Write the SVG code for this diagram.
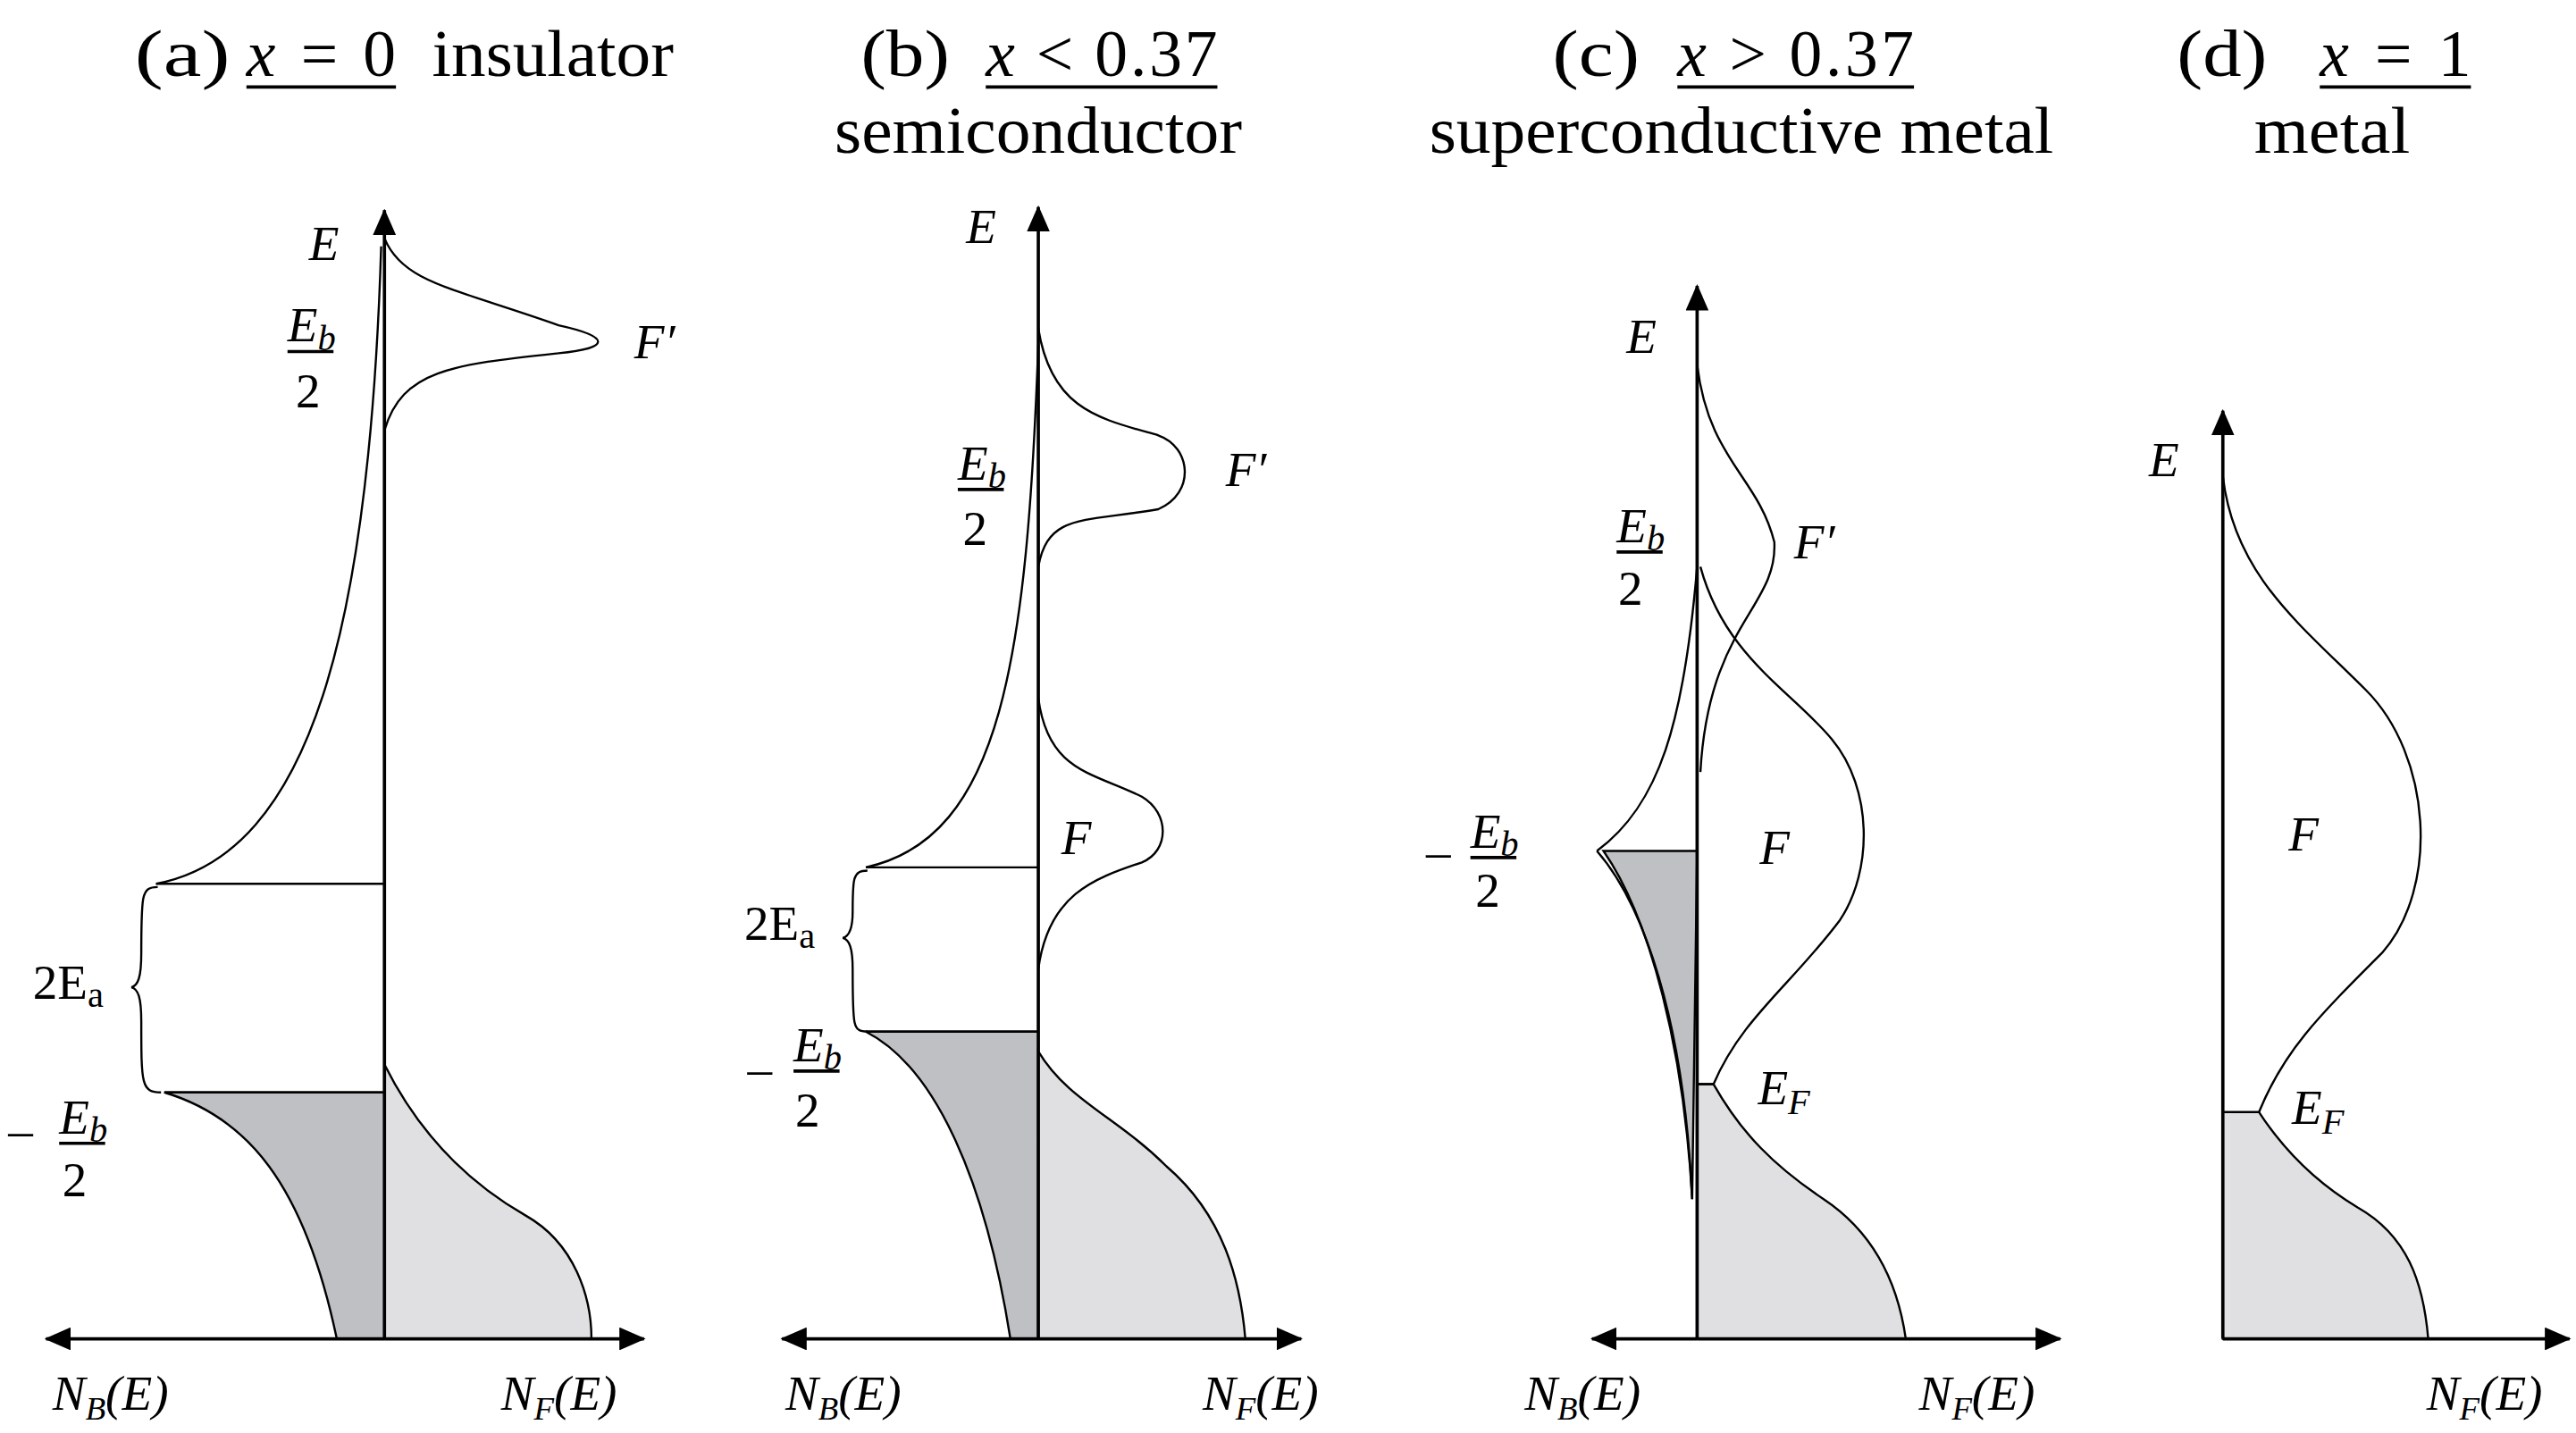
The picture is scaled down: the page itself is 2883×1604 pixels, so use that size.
<svg xmlns="http://www.w3.org/2000/svg" width="2883" height="1604" viewBox="0 0 2883 1604">
<defs>
<style>
.t{font-family:"Liberation Serif",serif;fill:#000}
.ti{font-family:"Liberation Serif",serif;font-style:italic;fill:#000}
.h{font-family:"Liberation Serif",serif;fill:#000;font-size:40px}
.ln{fill:none;stroke:#000;stroke-width:1.3}
.ax{fill:none;stroke:#000;stroke-width:2}
.dk{fill:#bfc0c3;stroke:#000;stroke-width:1.3}
.lt{fill:#e0e0e2;stroke:#000;stroke-width:1.3}
</style>
<marker id="ar" viewBox="0 0 16 14" refX="15" refY="7" markerWidth="16" markerHeight="14" markerUnits="userSpaceOnUse" orient="auto"><path d="M0,0L16,7L0,14z" fill="#000"/></marker>
</defs>
<rect width="2883" height="1604" fill="#fff"/>
<g transform="scale(1.8387)">
<g id="panel-a">
<text class="h" x="82" y="46" textLength="58" lengthAdjust="spacingAndGlyphs">(a)</text>
<text class="h" x="150" y="46" textLength="91" lengthAdjust="spacing"><tspan font-style="italic">x</tspan> = 0</text>
<text class="h" x="263" y="46" textLength="147" lengthAdjust="spacingAndGlyphs">insulator</text>
<line x1="150" y1="53" x2="241" y2="53" stroke="#000" stroke-width="2"/>
<path class="dk" d="M100,665 C150,680 185,720 205,815 L234,815 L234,665 Z"/>
<path class="lt" d="M234,648 C255,690 285,720 320,740 C350,757 360,790 360,815 L234,815 Z"/>
<path class="ln" d="M95,538 C190,520 225,380 232,150"/>
<path class="ln" d="M95,538 H234 M100,665 H234"/>
<path class="ln" d="M234,145 C245,172 275,175 340,198 C372,205 372,212 340,215 C275,222 245,225 234,262"/>
<path class="ln" d="M96,540 C86,540 86,545 86,580 C86,595 84,600 80,601 C84,602 86,607 86,622 C86,660 86,665 98,665"/>
<text class="ti" x="188" y="158" font-size="30">E</text>
<text class="ti" x="175" y="208" font-size="30">E<tspan font-size="22" dy="5">b</tspan></text>
<line x1="175" y1="214" x2="203" y2="214" stroke="#000" stroke-width="2"/>
<text class="t" x="180" y="248" font-size="30">2</text>
<text class="ti" x="386" y="218" font-size="30">F′</text>
<text class="t" x="20" y="608" font-size="30">2E<tspan font-size="22" dy="5">a</tspan></text>
<text class="t" x="5" y="698" font-size="30">–</text>
<text class="ti" x="36" y="690" font-size="30">E<tspan font-size="22" dy="5">b</tspan></text>
<line x1="36" y1="696" x2="64" y2="696" stroke="#000" stroke-width="2"/>
<text class="t" x="38" y="728" font-size="30">2</text>
<text class="ti" x="32" y="858" font-size="30">N<tspan font-size="20" dy="6">B</tspan><tspan dy="-6">(E)</tspan></text>
<text class="ti" x="305" y="858" font-size="30">N<tspan font-size="20" dy="6">F</tspan><tspan dy="-6">(E)</tspan></text>
</g>
<g id="panel-b">
<text class="h" x="524" y="46" textLength="54" lengthAdjust="spacingAndGlyphs">(b)</text>
<text class="h" x="600" y="46" textLength="141" lengthAdjust="spacing"><tspan font-style="italic">x</tspan> &lt; 0.37</text>
<line x1="600" y1="53" x2="741" y2="53" stroke="#000" stroke-width="2"/>
<text class="h" x="508" y="93" textLength="248" lengthAdjust="spacingAndGlyphs">semiconductor</text>
<path class="dk" d="M527,628 C570,650 600,720 615,815 L632,815 L632,628 Z"/>
<path class="lt" d="M632,640 C650,670 680,680 710,710 C745,740 755,780 758,815 L632,815 Z"/>
<path class="ln" d="M527,528 C610,510 625,400 632,210"/>
<path class="ln" d="M527,528 H632 M527,628 H632"/>
<path class="ln" d="M632,200 C640,250 670,255 705,265 C725,272 728,300 705,310 C660,318 638,312 632,345"/>
<path class="ln" d="M632,425 C638,470 665,470 695,485 C712,495 712,518 695,525 C665,535 638,545 632,590"/>
<path class="ln" d="M528,530 C519,530 519,535 519,555 C519,565 517,570 513,571 C517,572 519,577 519,590 C519,625 519,628 528,628"/>
<text class="ti" x="588" y="148" font-size="30">E</text>
<text class="ti" x="583" y="292" font-size="30">E<tspan font-size="22" dy="5">b</tspan></text>
<line x1="583" y1="298" x2="611" y2="298" stroke="#000" stroke-width="2"/>
<text class="t" x="586" y="332" font-size="30">2</text>
<text class="ti" x="746" y="296" font-size="30">F′</text>
<text class="ti" x="646" y="520" font-size="30">F</text>
<text class="t" x="453" y="572" font-size="30">2E<tspan font-size="22" dy="5">a</tspan></text>
<text class="t" x="455" y="660" font-size="30">–</text>
<text class="ti" x="483" y="646" font-size="30">E<tspan font-size="22" dy="5">b</tspan></text>
<line x1="483" y1="652" x2="511" y2="652" stroke="#000" stroke-width="2"/>
<text class="t" x="484" y="686" font-size="30">2</text>
<text class="ti" x="478" y="858" font-size="30">N<tspan font-size="20" dy="6">B</tspan><tspan dy="-6">(E)</tspan></text>
<text class="ti" x="732" y="858" font-size="30">N<tspan font-size="20" dy="6">F</tspan><tspan dy="-6">(E)</tspan></text>
</g>
<g id="panel-c">
<text class="h" x="945" y="46" textLength="53" lengthAdjust="spacingAndGlyphs">(c)</text>
<text class="h" x="1021" y="46" textLength="144" lengthAdjust="spacing"><tspan font-style="italic">x</tspan> &gt; 0.37</text>
<line x1="1021" y1="53" x2="1165" y2="53" stroke="#000" stroke-width="2"/>
<text class="h" x="870" y="93" textLength="380" lengthAdjust="spacingAndGlyphs">superconductive metal</text>
<path class="dk" d="M976,518 C1005,560 1025,640 1030,730 L1033,518 Z"/>
<path class="lt" d="M1043,660 C1060,690 1080,710 1110,730 C1140,750 1155,780 1160,815 L1033,815 L1033,660 Z"/>
<path class="ln" d="M972,518 C1010,490 1025,440 1033,345"/>
<path class="ln" d="M972,518 C1000,550 1025,620 1030,730"/>
<path class="ln" d="M1033,222 C1040,280 1070,290 1080,330 C1082,370 1040,380 1035,470"/>
<path class="ln" d="M1035,345 C1050,400 1090,420 1115,450 C1140,480 1140,530 1120,560 C1090,600 1060,620 1043,660 L1033,660"/>
<text class="ti" x="990" y="215" font-size="30">E</text>
<text class="ti" x="984" y="330" font-size="30">E<tspan font-size="22" dy="5">b</tspan></text>
<line x1="984" y1="336" x2="1012" y2="336" stroke="#000" stroke-width="2"/>
<text class="t" x="985" y="368" font-size="30">2</text>
<text class="ti" x="1092" y="340" font-size="30">F′</text>
<text class="t" x="868" y="528" font-size="30">–</text>
<text class="ti" x="895" y="516" font-size="30">E<tspan font-size="22" dy="5">b</tspan></text>
<line x1="895" y1="522" x2="923" y2="522" stroke="#000" stroke-width="2"/>
<text class="t" x="898" y="552" font-size="30">2</text>
<text class="ti" x="1071" y="526" font-size="30">F</text>
<text class="ti" x="1070" y="672" font-size="30">E<tspan font-size="22" dy="6">F</tspan></text>
<text class="ti" x="928" y="858" font-size="30">N<tspan font-size="20" dy="6">B</tspan><tspan dy="-6">(E)</tspan></text>
<text class="ti" x="1168" y="858" font-size="30">N<tspan font-size="20" dy="6">F</tspan><tspan dy="-6">(E)</tspan></text>
</g>
<g id="panel-d">
<text class="h" x="1325" y="46" textLength="55" lengthAdjust="spacingAndGlyphs">(d)</text>
<text class="h" x="1412" y="46" textLength="92" lengthAdjust="spacing"><tspan font-style="italic">x</tspan> = 1</text>
<line x1="1412" y1="53" x2="1504" y2="53" stroke="#000" stroke-width="2"/>
<text class="h" x="1372" y="93" textLength="95" lengthAdjust="spacingAndGlyphs">metal</text>
<path class="lt" d="M1353,677 H1375 C1390,700 1410,720 1435,735 C1465,752 1475,780 1478,815 L1353,815 Z"/>
<path class="ln" d="M1353,290 C1360,350 1400,380 1440,420 C1480,460 1485,540 1450,580 C1410,620 1390,640 1375,677"/>
<text class="ti" x="1308" y="290" font-size="30">E</text>
<text class="ti" x="1393" y="518" font-size="30">F</text>
<text class="ti" x="1395" y="684" font-size="30">E<tspan font-size="22" dy="6">F</tspan></text>
<text class="ti" x="1477" y="858" font-size="30">N<tspan font-size="20" dy="6">F</tspan><tspan dy="-6">(E)</tspan></text>
</g>
<g id="connectors">
<line class="ax" x1="234" y1="815" x2="234" y2="128" marker-end="url(#ar)"/>
<line class="ax" x1="234" y1="815" x2="392" y2="815" marker-end="url(#ar)"/>
<line class="ax" x1="234" y1="815" x2="28" y2="815" marker-end="url(#ar)"/>
<line class="ax" x1="632" y1="815" x2="632" y2="126" marker-end="url(#ar)"/>
<line class="ax" x1="632" y1="815" x2="792" y2="815" marker-end="url(#ar)"/>
<line class="ax" x1="632" y1="815" x2="476" y2="815" marker-end="url(#ar)"/>
<line class="ax" x1="1033" y1="815" x2="1033" y2="174" marker-end="url(#ar)"/>
<line class="ax" x1="1033" y1="815" x2="1254" y2="815" marker-end="url(#ar)"/>
<line class="ax" x1="1033" y1="815" x2="969" y2="815" marker-end="url(#ar)"/>
<line class="ax" x1="1353" y1="815" x2="1353" y2="250" marker-end="url(#ar)"/>
<line class="ax" x1="1353" y1="815" x2="1564" y2="815" marker-end="url(#ar)"/>
</g>
</g>
</svg>
